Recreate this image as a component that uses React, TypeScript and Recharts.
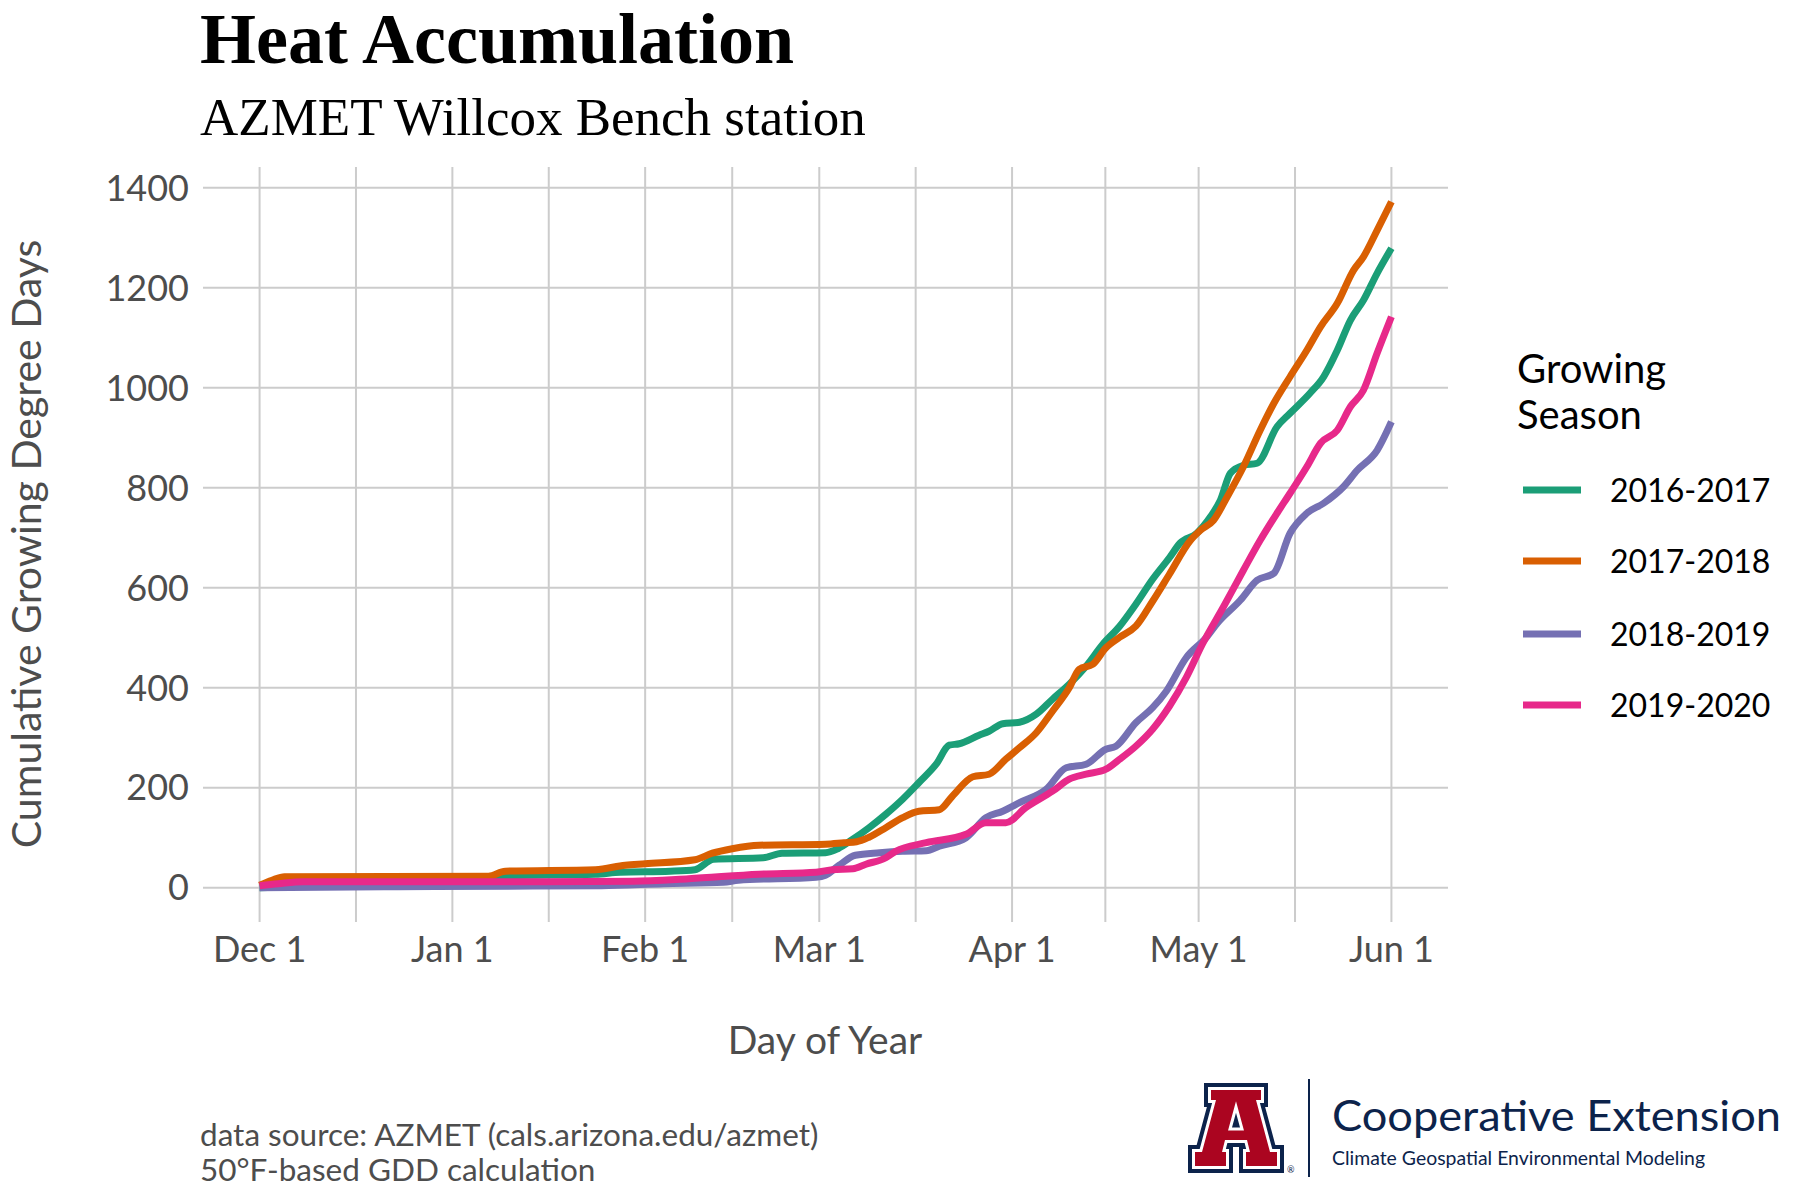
import React from "react";
import { LineChart, Line, XAxis, YAxis, CartesianGrid } from "recharts";

const SANS = "Lato, 'Open Sans', sans-serif";
const SERIF = "'Liberation Serif', 'DejaVu Serif', serif";

// days since Dec 1, cumulative GDD
const days16 = [0, 5, 10, 20, 30, 37, 40, 54, 58, 66, 70, 73, 81, 84, 91, 93, 95.4, 98, 100.7, 103.4, 106, 108.8, 110.9, 112.5, 115.7, 117.3, 119.5, 122.2, 124.9, 127.5, 130.2, 132.9, 135.6, 138.3, 140.9, 143.6, 146.3, 148, 150.7, 152.9, 154.5, 156.1, 158.2, 160.4, 163.6, 165.7, 168.9, 171.1, 173.3, 175.4, 177.5, 179.7, 182];
const gdd16 = [0, 2, 4, 8, 12, 16, 24, 27, 31, 33, 36, 57, 60, 69, 70, 78, 97, 120, 147, 177, 210, 247, 285, 288, 305, 313, 328, 331, 347, 377, 407, 443, 487, 523, 567, 617, 660, 689, 709, 742, 775, 829, 845, 849, 922, 949, 989, 1022, 1075, 1135, 1175, 1229, 1279];

const days17 = [0, 2, 4, 36.8, 39.5, 54, 58.8, 62, 70, 72.8, 76, 80.3, 91, 94, 96, 98, 100.7, 103.4, 106, 109.3, 111.4, 114.7, 117.3, 120, 122.2, 124.9, 127.5, 130.2, 131.8, 134, 136.1, 138.3, 140.9, 143.6, 146.3, 149.7, 151.3, 153.4, 155.6, 158.2, 160.9, 163.1, 165.7, 168.4, 170.6, 173.3, 175.9, 177.5, 179.7, 182];
const gdd17 = [5, 15, 22, 23, 33, 36, 45, 48, 56, 69, 78, 85, 87, 90, 92, 101, 120, 140, 153, 156, 183, 222, 227, 257, 280, 310, 353, 400, 437, 447, 480, 501, 523, 573, 627, 695, 715, 735, 782, 842, 915, 969, 1022, 1075, 1122, 1169, 1235, 1262, 1315, 1372];

const days18 = [0, 20, 40, 55, 65, 74.6, 77, 89.5, 91, 93.2, 95.8, 99.7, 103.4, 107.2, 109.3, 113.6, 116.8, 119.5, 122.2, 126.5, 129.7, 132.9, 136.1, 137.7, 140.9, 143.6, 145.8, 149, 152.2, 154, 157.7, 160.4, 163.1, 165.7, 168.4, 171.1, 174.3, 176.5, 179.7, 182];
const gdd18 = [0, 2, 3, 4, 8, 11, 15, 21, 25, 45, 65, 70, 73, 74, 83, 100, 140, 153, 170, 197, 240, 247, 277, 283, 330, 360, 393, 460, 500, 529, 575, 615, 629, 709, 749, 769, 802, 835, 875, 932];

const days19 = [0, 3, 7, 20, 40, 60, 69, 80.3, 89.5, 92.1, 95.4, 97.5, 100.7, 102.3, 107.2, 113.6, 116.8, 120, 123.2, 127.5, 130.2, 132.9, 136.1, 138.3, 140.9, 143.6, 146.3, 149, 151.6, 155, 158.2, 160.9, 163.6, 165.7, 168.4, 170.6, 173.3, 175.4, 177.5, 179.7, 182];
const gdd19 = [4, 8, 12, 12, 12, 13, 18, 27, 31, 36, 38, 47, 60, 73, 90, 107, 130, 130, 160, 193, 217, 227, 237, 257, 283, 317, 363, 420, 487, 562, 635, 695, 749, 789, 842, 889, 915, 962, 995, 1069, 1142];

const seasons = ["2016-2017", "2017-2018", "2018-2019", "2019-2020"];
const colors = ["#1B9E77", "#D95F02", "#7570B3", "#E7298A"];

// month breaks (major) and the midpoints between them (minor grid)
const tickDays = [0, 15.5, 31, 46.5, 62, 76, 90, 105.5, 121, 136, 151, 166.5, 182];
const tickLabels = ["Dec 1", "", "Jan 1", "", "Feb 1", "", "Mar 1", "", "Apr 1", "", "May 1", "", "Jun 1"];
const yTicks = [0, 200, 400, 600, 800, 1000, 1200, 1400];

const toRows = (days: number[], gdd: number[]) => days.map((d, i) => ({ day: d, gdd: gdd[i] }));

const series = [
  toRows(days16, gdd16),
  toRows(days17, gdd17),
  toRows(days18, gdd18),
  toRows(days19, gdd19),
];

function Logo() {
  const navy = "#0C234B";
  const aPts =
    "1211,1090 1261,1090 1261,1100 1256,1100 1270,1152 1277,1152 1277,1166 1246,1166 1246,1152 1250,1152 1247,1140 1225,1140 1222,1152 1226,1152 1226,1166 1195,1166 1195,1152 1202,1152 1216,1100 1211,1100";
  const counter = "1236,1107 1230,1129 1242,1129";
  return (
    <g>
      <polygon points={aPts} fill={navy} stroke={navy} strokeWidth={14} strokeLinejoin="miter" />
      <polygon points={aPts} fill="#fff" stroke="#fff" strokeWidth={6} strokeLinejoin="miter" />
      <polygon points={aPts} fill="#AB0520" />
      <polygon points={counter} fill={navy} stroke="#fff" strokeWidth={3} />
      <text x={1287} y={1173} fontSize={9} fill={navy} fontFamily={SANS}>®</text>
      <line x1={1309} x2={1309} y1={1079} y2={1177} stroke={navy} strokeWidth={2} />
      <text x={1332} y={1131} fontSize={43} fill={navy} fontFamily={SANS} textLength={449} lengthAdjust="spacingAndGlyphs">
        Cooperative Extension
      </text>
      <text x={1332} y={1165} fontSize={19} fill={navy} fontFamily={SANS} textLength={373} lengthAdjust="spacingAndGlyphs">
        Climate Geospatial Environmental Modeling
      </text>
    </g>
  );
}

export default function App() {
  const legendY = [490, 561, 634, 705];
  return (
    <div style={{ position: "absolute", left: 0, top: 0, width: 1800, height: 1200, background: "#fff" }}>
      <LineChart width={1800} height={1200} margin={{ top: 167, right: 352, bottom: 218, left: 123 }}>
        <CartesianGrid stroke="#cccccc" strokeWidth={2} syncWithTicks />
        <XAxis
          dataKey="day"
          type="number"
          domain={[-9.1, 191.1]}
          allowDataOverflow
          ticks={tickDays}
          interval={0}
          tickFormatter={(v: number) => tickLabels[tickDays.indexOf(v)] ?? ""}
          axisLine={false}
          tickLine={false}
          tickMargin={8}
          height={60}
          tick={{ fill: "#4d4d4d", fontSize: 36, fontFamily: SANS }}
        />
        <YAxis
          type="number"
          domain={[-68.6, 1441.6]}
          allowDataOverflow
          ticks={yTicks}
          interval={0}
          axisLine={false}
          tickLine={false}
          tickMargin={8}
          width={80}
          tick={{ fill: "#4d4d4d", fontSize: 36, fontFamily: SANS }}
        />
        {series.map((rows, i) => (
          <Line
            key={seasons[i]}
            data={rows}
            dataKey="gdd"
            name={seasons[i]}
            type="monotone"
            stroke={colors[i]}
            strokeWidth={7}
            dot={false}
            isAnimationActive={false}
          />
        ))}
      </LineChart>
      <svg width={1800} height={1200} style={{ position: "absolute", left: 0, top: 0, pointerEvents: "none" }}>
        <text x={200} y={63} fontFamily={SERIF} fontWeight="bold" fontSize={72} fill="#000">
          Heat Accumulation
        </text>
        <text x={200} y={135} fontFamily={SERIF} fontSize={53} fill="#000">
          AZMET Willcox Bench station
        </text>
        <text
          transform="translate(41,544) rotate(-90)"
          textAnchor="middle"
          fontFamily={SANS}
          fontSize={41}
          fill="#4d4d4d"
        >
          Cumulative Growing Degree Days
        </text>
        <text x={825} y={1054} textAnchor="middle" fontFamily={SANS} fontSize={39} fill="#4d4d4d">
          Day of Year
        </text>
        <text x={1517} y={383} fontFamily={SANS} fontSize={40} fill="#000">Growing</text>
        <text x={1517} y={429} fontFamily={SANS} fontSize={40} fill="#000">Season</text>
        {seasons.map((s, i) => (
          <g key={s}>
            <line x1={1523} x2={1581} y1={legendY[i]} y2={legendY[i]} stroke={colors[i]} strokeWidth={7} />
            <text x={1610} y={legendY[i] + 12} fontFamily={SANS} fontSize={32} fill="#000">{s}</text>
          </g>
        ))}
        <text x={200} y={1146} fontFamily={SANS} fontSize={31.5} fill="#4d4d4d">
          data source: AZMET (cals.arizona.edu/azmet)
        </text>
        <text x={200} y={1181} fontFamily={SANS} fontSize={31.5} fill="#4d4d4d">
          50°F-based GDD calculation
        </text>
        <Logo />
      </svg>
    </div>
  );
}
